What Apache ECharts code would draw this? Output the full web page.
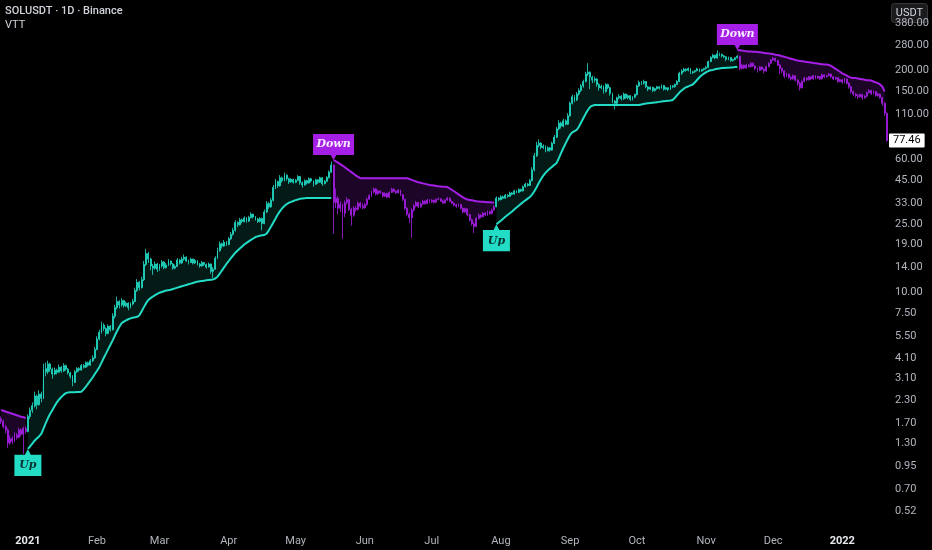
<!DOCTYPE html>
<html><head><meta charset="utf-8">
<script src="https://cdn.jsdelivr.net/npm/echarts@6/dist/echarts.min.js"></script>
<style>html,body{margin:0;padding:0;background:#000;}#c{width:932px;height:550px;}</style>
</head><body><div id="c"></div>
<script>
// ---------- data (daily SOLUSDT candles) ----------
const START_DATE = '2020-12-20';
const FIRST_OPEN = 1.80;
const CLOSE = [
 1.74,1.62,1.55,1.30,1.38,1.33,1.45,1.40,1.55,1.46,1.58,1.52,
 1.86,2.02,2.15,2.45,2.18,2.52,2.38,3.55,3.40,3.78,3.52,3.30,3.48,3.38,3.62,3.44,3.70,3.52,3.35,3.20,2.95,3.40,3.55,3.48,3.70,3.62,3.85,3.72,3.95,4.10,4.60,
 5.30,5.80,6.40,6.10,5.70,6.30,6.00,7.20,8.10,8.80,8.40,8.90,8.30,8.60,8.10,8.50,8.80,10.2,11.4,10.6,11.8,14.5,16.8,15.6,14.2,13.8,14.6,13.6,
 14.2,15.0,13.9,14.4,15.2,14.6,13.8,14.1,15.4,14.8,15.6,16.0,15.2,14.9,15.6,14.8,15.3,14.6,14.2,14.9,14.5,14.0,14.6,13.2,13.6,15.8,17.5,19.2,18.6,19.6,19.0,
 20.5,21.8,23.0,25.6,24.8,26.5,25.9,27.2,26.0,27.4,28.6,27.5,26.8,25.9,27.0,25.2,29.5,33.0,31.6,34.5,41.0,44.5,42.0,46.8,45.0,48.5,46.2,44.3,45.8,44.0,
 45.2,47.6,43.8,42.5,45.0,43.6,46.2,44.8,42.9,45.5,44.0,46.8,43.2,44.6,47.0,50.5,55.5,33.5,35.5,31.0,32.5,29.0,33.5,34.8,30.5,28.2,31.0,30.5,33.2,31.8,31.2,
 32.6,35.0,36.8,38.5,40.2,37.6,39.1,38.2,36.5,37.8,36.0,38.4,40.1,39.0,38.2,39.6,37.2,35.0,31.0,28.6,27.3,30.2,32.0,33.5,31.6,32.9,34.1,33.0,34.6,33.8,
 34.5,33.6,34.9,35.2,34.1,33.3,34.6,35.5,34.0,33.2,32.4,31.8,32.6,31.0,29.5,30.8,28.4,26.5,25.1,24.2,27.0,28.2,27.6,29.0,28.3,29.6,28.8,30.2,31.6,35.6,34.8,
 36.2,35.5,37.0,36.4,38.1,37.5,39.2,38.4,40.0,39.1,41.5,43.0,42.2,45.0,52.0,63.0,72.5,74.8,70.5,71.8,67.5,70.2,68.0,74.5,81.0,90.5,98.0,94.0,101,96.5,108,
 128,140,134,145,152,162,172,190,195,182,175,178,165,158,161,150,165,158,146,132,128,138,141,136,145,138,142,135,139,144,
 162,170,168,172,160,155,159,152,156,160,157,163,155,158,154,162,160,165,172,192,198,203,200,205,194,196,199,204,198,202,205,
 208,225,238,245,236,250,248,243,240,232,238,228,231,237,242,205,214,206,215,210,220,212,205,200,209,203,198,210,220,230,
 235,228,215,205,198,185,190,182,178,186,175,168,158,172,180,176,183,178,186,180,184,178,188,183,186,190,183,178,181,172,176,
 170,178,168,160,150,145,142,140,144,138,141,148,152,146,150,142,145,138,128,112,77.46
];
const HIGH = [
 1.86,1.78,1.66,1.58,1.44,1.42,1.50,1.49,1.60,1.58,1.62,1.63,
 1.92,2.10,2.25,2.60,2.50,2.65,2.60,3.80,3.85,3.95,3.85,3.60,3.60,3.55,3.75,3.68,3.82,3.75,3.58,3.40,3.25,3.48,3.62,3.62,3.78,3.78,3.92,3.90,4.05,4.25,4.75,
 5.50,6.00,6.70,6.55,6.20,6.45,6.40,7.50,8.40,9.40,8.95,9.20,9.00,8.80,8.70,8.70,9.10,10.6,11.9,11.6,12.3,15.2,17.9,17.2,15.9,14.6,15.1,14.8,
 14.6,15.4,15.2,14.8,15.6,15.3,14.8,14.5,15.8,15.6,16.1,16.6,16.2,15.5,15.9,15.7,15.6,15.4,14.8,15.2,15.0,14.7,14.9,14.7,14.0,16.2,18.2,19.8,19.5,20.2,19.9,
 21.0,22.5,23.8,26.4,26.0,27.2,27.0,27.8,27.5,28.0,29.4,28.8,27.9,27.2,27.5,27.3,30.5,34.2,33.8,35.6,42.5,46.0,45.0,48.5,47.6,50.2,49.0,46.8,46.6,46.2,
 46.0,48.5,47.9,44.6,45.8,45.6,47.0,46.8,45.2,46.2,45.9,47.5,47.2,45.4,47.8,51.6,58.3,56.0,40.5,36.5,34.0,33.0,34.5,36.0,35.2,31.2,31.8,32.0,34.0,33.8,33.0,
 33.2,35.8,37.5,39.4,41.0,40.6,39.8,39.6,38.6,38.4,38.2,39.0,40.8,40.6,39.5,40.2,39.8,37.6,35.2,31.4,29.2,31.0,32.8,34.2,33.8,33.5,34.8,34.5,35.2,35.0,
 35.0,34.8,35.4,35.9,35.5,34.6,35.0,36.2,35.8,34.4,33.5,32.8,33.0,32.8,31.3,31.2,31.0,28.8,26.9,25.6,27.6,28.9,28.6,29.5,29.4,30.1,29.9,30.8,32.4,36.4,36.0,
 37.0,36.8,37.6,37.5,38.8,38.6,39.8,39.6,40.6,40.4,42.2,43.8,43.6,46.0,54.0,65.5,76.0,78.5,75.6,73.5,72.6,71.5,71.0,76.2,83.5,93.0,102,100,104,103,112,
 131,144,143,149,157,166,176,196,220,197,186,184,180,168,165,163,168,167,160,148,134,140,145,143,148,146,144,143,141,146,
 165,174,173,176,173,162,161,160,158,162,161,165,164,160,159,164,164,167,175,196,203,207,205,208,206,199,201,207,205,204,207,
 212,228,242,249,247,262,254,251,246,242,241,239,234,239,245,243,218,216,218,217,223,222,214,207,212,211,205,213,223,233,
 240,237,230,217,207,200,193,191,184,189,187,177,170,174,183,182,185,184,188,187,186,185,191,189,188,193,191,185,183,182,178,
 177,180,179,170,162,152,147,145,146,145,143,150,155,153,152,151,147,146,140,130,113
];
const LOW = [
 1.68,1.58,1.48,1.22,1.26,1.28,1.31,1.36,1.38,1.42,1.12,1.47,
 1.50,1.80,1.95,2.10,2.05,2.15,2.25,2.35,3.20,3.30,3.40,3.10,3.25,3.28,3.35,3.36,3.40,3.45,3.28,3.10,2.80,2.92,3.35,3.40,3.45,3.55,3.58,3.65,3.70,3.88,4.05,
 4.55,5.20,5.70,5.90,5.50,5.65,5.85,5.95,7.00,7.90,8.00,8.20,8.10,8.15,7.80,8.00,8.35,8.70,10.0,10.2,10.5,11.6,14.2,14.8,13.4,12.6,13.5,13.1,
 13.3,13.9,13.6,13.7,14.2,14.3,13.5,13.6,14.0,14.5,14.6,15.3,15.0,14.5,14.8,14.5,14.6,14.3,13.9,14.1,14.2,13.7,13.9,12.8,12.1,13.5,15.6,17.2,18.0,18.4,18.6,
 18.8,20.2,21.4,22.6,24.0,24.5,25.3,25.6,25.5,25.8,27.0,27.0,26.2,25.4,25.6,23.0,25.0,29.0,30.8,31.2,34.0,40.2,40.8,41.5,43.8,44.6,45.0,43.0,43.6,43.2,
 43.5,44.8,42.6,41.0,42.0,42.8,43.2,44.0,41.5,42.5,43.0,43.6,42.0,42.8,44.2,46.3,50.0,22.0,31.0,28.5,29.5,20.5,27.5,32.6,29.8,24.5,27.6,29.6,30.0,31.0,30.6,
 30.8,32.0,34.6,36.0,37.8,36.9,37.0,37.5,35.8,36.0,35.4,35.7,38.0,38.4,37.5,37.8,36.5,34.2,30.2,27.8,25.4,20.8,29.6,31.4,31.0,31.2,32.4,32.5,32.8,33.2,
 33.3,33.0,33.4,34.5,33.8,32.9,33.0,34.3,33.6,32.8,31.8,31.2,31.5,30.5,28.9,29.2,27.8,25.9,24.5,22.2,24.0,26.6,27.0,27.4,27.9,28.0,28.4,28.6,30.0,31.4,34.0,
 34.5,35.0,35.2,35.8,36.2,37.0,37.3,38.0,38.2,38.6,39.0,41.0,41.5,42.0,44.6,51.0,62.0,70.5,68.8,69.0,66.0,66.8,66.5,67.5,73.8,80.0,89.0,91.0,92.5,95.0,95.5,
 107,126,130,132,142,149,158,170,185,155,168,170,160,152,155,146,148,155,142,128,118,123,135,133,134,136,135,132,133,137,
 142,160,164,165,157,151,153,149,150,154,154,156,152,153,151,153,157,158,164,170,188,195,196,197,190,190,193,197,195,196,199,
 202,206,223,235,232,234,242,238,236,226,229,224,225,229,234,200,202,203,204,207,208,209,200,194,198,200,192,196,208,218,
 226,224,212,190,192,180,182,178,174,176,172,162,152,156,170,173,174,175,176,177,178,175,176,180,181,184,180,175,176,169,170,
 167,168,165,156,146,141,138,136,138,134,136,139,146,143,144,140,140,136,124,108,76
];
// VTT trailing line, one array per trend leg (start date + daily values)
const DOWN_LEG_1_START = '2020-12-20';
const DOWN_LEG_1 = [2.03,2.01,1.99,1.97,1.95,1.93,1.91,1.89,1.87,1.85,1.84,1.82];
const UP_LEG_1_START = '2021-01-01';
const UP_LEG_1 = [
 1.20,1.24,1.29,1.34,1.38,1.42,1.47,1.58,1.70,1.82,1.93,2.03,2.14,2.25,2.34,2.42,2.49,2.55,2.57,2.58,
 2.58,2.58,2.59,2.59,2.60,2.68,2.78,2.90,3.02,3.15,3.30,3.45,3.62,3.85,4.10,4.35,4.62,4.90,5.20,5.55,
 5.90,6.25,6.55,6.70,6.82,6.92,7.00,7.06,7.10,7.15,7.30,7.70,8.15,8.60,8.98,9.20,9.40,9.58,9.75,9.90,
 10.0,10.1,10.2,10.25,10.3,10.4,10.5,10.6,10.7,10.8,10.9,11.0,11.1,11.2,11.3,11.4,11.5,11.55,11.6,11.65,
 11.7,11.75,11.8,11.85,12.0,12.3,12.8,13.4,14.0,14.6,15.2,15.8,16.4,17.0,17.5,18.0,18.5,19.0,19.4,19.8,
 20.2,20.6,21.0,21.2,21.4,21.5,21.6,22.0,23.0,24.2,25.6,27.0,28.5,29.8,31.0,32.0,32.8,33.4,33.8,34.2,
 34.6,34.9,35.2,35.4,35.5,35.6,35.6,35.6,35.6,35.6,35.6,35.6,35.6,35.6,35.6,35.6,35.6
];
const DOWN_LEG_2_START = '2021-05-18';
const DOWN_LEG_2 = [
 59.5,58.5,57.4,56.3,55.2,54.0,52.8,51.6,50.5,49.4,48.3,47.3,46.5,46.5,46.5,46.5,46.5,46.5,46.5,46.5,
 46.5,46.5,46.5,46.5,46.5,46.5,46.5,46.5,46.5,46.5,46.5,46.5,46.5,46.5,46.0,45.5,45.0,44.5,44.0,43.7,
 43.4,43.1,42.8,42.5,42.3,42.1,41.9,41.7,41.6,41.5,41.4,41.3,40.6,39.8,39.0,38.2,37.4,36.6,35.9,35.3,
 34.9,34.7,34.5,34.3,34.1,34.0,33.9,33.8,33.7,33.6,33.6,33.5,33.5
];
const UP_LEG_2_START = '2021-07-30';
const UP_LEG_2 = [
 25.0,25.6,26.2,26.9,27.6,28.3,29.0,29.7,30.5,31.3,32.1,32.9,33.7,34.5,35.3,36.1,37.3,39.0,41.2,43.6,
 46.0,48.2,50.0,51.6,53.0,54.4,55.8,57.2,61.0,65.5,70.0,74.5,79.0,83.5,86.5,88.0,89.3,93.5,99.0,105,
 111,117,122,124,125,125,125,125,125,125,125,125,125,125,125,125,125,125,125,125,
 125,125,125,125,125,126,127,127.5,128,128.5,129,129.5,130,130.5,131,131.5,132,132.5,133,134,
 138,143,148,152,156,159,161,163,165,170,176,182,187,191,195,198,200,201,203,204,
 205,206,206,207,207,208,208,209,209
];
const DOWN_LEG_3_START = '2021-11-15';
const DOWN_LEG_3 = [
 263,262,261,260,259,258,258,257,257,256,255,254,253,252,251,250,249,247,246,244,
 242,240,238,236,234,232,230,228,227,226,225,224,223,222,221,220,219,218,217,216,
 216,215,212,208,204,200,196,192,189,186,183,181,180,180,179,178,177,176,175,175,
 174,172,170,168,165,160,150
];
const Y_TICKS = [0.52,0.70,0.95,1.30,1.70,2.30,3.10,4.10,5.50,7.50,10,14,19,25,33,45,60,110,150,200,280,380];
const LAST_PRICE = 77.46;
const Y_MIN = 0.412, Y_MAX = 517;
const MONTHS = ['Jan','Feb','Mar','Apr','May','Jun','Jul','Aug','Sep','Oct','Nov','Dec'];

// ---------- build ----------
const TEAL = '#22dcc5', PURPLE = '#a61fe6';
const N = CLOSE.length;
const t0 = Date.parse(START_DATE + 'T00:00:00Z');
const dates = [];
for (let i = 0; i < N; i++) dates.push(new Date(t0 + i * 86400000).toISOString().slice(0, 10));

const upTrail = new Array(N).fill(null), dnTrail = new Array(N).fill(null);
const upSignals = [], dnSignals = [];
function place(arr, start, vals, sig) {
  const k = dates.indexOf(start);
  vals.forEach((v, j) => { arr[k + j] = v; });
  if (sig) sig.push({ coord: [dates[k], vals[0]] });
}
place(dnTrail, DOWN_LEG_1_START, DOWN_LEG_1, null);
place(upTrail, UP_LEG_1_START, UP_LEG_1, upSignals);
place(dnTrail, DOWN_LEG_2_START, DOWN_LEG_2, dnSignals);
place(upTrail, UP_LEG_2_START, UP_LEG_2, upSignals);
place(dnTrail, DOWN_LEG_3_START, DOWN_LEG_3, dnSignals);

const candles = dates.map((d, i) => {
  const o = i === 0 ? FIRST_OPEN : CLOSE[i - 1];
  const c = upTrail[i] != null ? TEAL : PURPLE;
  return { value: [o, CLOSE[i], LOW[i], HIGH[i]], itemStyle: { color: c, color0: c, borderColor: c, borderColor0: c } };
});
const upDiff = CLOSE.map((c, i) => upTrail[i] != null ? c - upTrail[i] : null);
const dnDiff = CLOSE.map((c, i) => dnTrail[i] != null ? c - dnTrail[i] : null);

const FONT = 'Roboto, "Noto Sans", sans-serif';
const chart = echarts.init(document.getElementById('c'), null, { renderer: 'canvas' });
chart.setOption({
  backgroundColor: '#000',
  animation: false,
  textStyle: { fontFamily: FONT },
  title: {
    text: 'SOLUSDT · 1D · Binance', subtext: 'VTT', left: 5, top: 6, padding: 0, itemGap: 3,
    textStyle: { color: '#d1d4dc', fontSize: 11, fontWeight: 500, fontFamily: FONT },
    subtextStyle: { color: '#d1d4dc', fontSize: 11, fontFamily: FONT }
  },
  grid: { left: 0, right: 44, top: 0, bottom: 22 },
  xAxis: {
    type: 'category', data: dates, boundaryGap: true,
    axisLine: { show: false }, axisTick: { show: false }, splitLine: { show: false },
    axisLabel: {
      interval: (i, v) => v.slice(8) === '01',
      formatter: v => { const m = +v.slice(5, 7); return m === 1 ? '{y|' + v.slice(0, 4) + '}' : MONTHS[m - 1]; },
      color: '#b2b5be', fontSize: 11, margin: 8, fontFamily: FONT,
      rich: { y: { fontWeight: 'bold', color: '#e6e8ee', fontSize: 11, fontFamily: FONT } }
    }
  },
  yAxis: [{
    type: 'log', logBase: 10, position: 'right', min: Y_MIN, max: Y_MAX,
    axisLine: { show: false }, axisTick: { show: false }, splitLine: { show: false },
    axisLabel: { customValues: Y_TICKS, formatter: v => Number(v).toFixed(2), color: '#b2b5be', fontSize: 11, margin: 7, fontFamily: FONT }
  }, {
    type: 'log', logBase: 10, position: 'right', min: Y_MIN, max: Y_MAX,
    axisLine: { show: false }, axisTick: { show: false }, splitLine: { show: false },
    axisLabel: { customValues: [LAST_PRICE], formatter: v => Number(v).toFixed(2), color: '#000', backgroundColor: '#fff',
      padding: [2, 4, 1, 4], borderRadius: 1, fontSize: 11, margin: 1, fontFamily: FONT }
  }],
  graphic: [{
    type: 'group', right: 4, top: 3, z: 100, children: [
      { type: 'rect', shape: { x: 0, y: 0, width: 36, height: 19, r: 3 }, style: { fill: '#1b1b1d', stroke: '#38383b', lineWidth: 1 } },
      { type: 'text', x: 18, y: 10, style: { text: 'USDT', fill: '#d1d4dc', font: '11px Roboto', textAlign: 'center', textVerticalAlign: 'middle' } }
    ]
  }],
  series: [
    { name: 'upFillBase', type: 'line', data: upTrail, stack: 'up', stackStrategy: 'all', symbol: 'none', silent: true,
      lineStyle: { color: TEAL, width: 2 }, z: 4,
      markPoint: {
        symbol: 'path://M0,6L11,6L14,0L17,6L28,6L28,28L0,28Z', symbolSize: [27, 27], symbolOffset: [0, '50%'], symbolKeepAspect: false,
        itemStyle: { color: TEAL },
        label: { show: true, position: 'inside', formatter: 'Up', offset: [0, 3], color: '#07302e', fontFamily: '"DejaVu Serif", serif', fontStyle: 'italic', fontWeight: 'bold', fontSize: 11 },
        data: upSignals
      } },
    { name: 'upFill', type: 'line', data: upDiff, stack: 'up', stackStrategy: 'all', symbol: 'none', silent: true,
      lineStyle: { width: 0 }, areaStyle: { color: 'rgba(34,220,197,0.17)' }, z: 1 },
    { name: 'dnFillBase', type: 'line', data: dnTrail, stack: 'dn', stackStrategy: 'all', symbol: 'none', silent: true,
      lineStyle: { color: PURPLE, width: 2 }, z: 4,
      markPoint: {
        symbol: 'path://M0,0L42,0L42,21L24,21L21,26L18,21L0,21Z', symbolSize: [41, 26], symbolOffset: [0, '-50%'], symbolKeepAspect: false,
        itemStyle: { color: PURPLE },
        label: { show: true, position: 'inside', formatter: 'Down', offset: [0, -2.5], color: '#f6eaff', fontFamily: '"DejaVu Serif", serif', fontStyle: 'italic', fontWeight: 'bold', fontSize: 11 },
        data: dnSignals
      } },
    { name: 'dnFill', type: 'line', data: dnDiff, stack: 'dn', stackStrategy: 'all', symbol: 'none', silent: true,
      lineStyle: { width: 0 }, areaStyle: { color: 'rgba(166,31,230,0.24)' }, z: 1 },
    { name: 'SOLUSDT', type: 'candlestick', data: candles, barWidth: 1.4, z: 3,
      itemStyle: { borderWidth: 0.8 } }
  ]
});
</script></body></html>
